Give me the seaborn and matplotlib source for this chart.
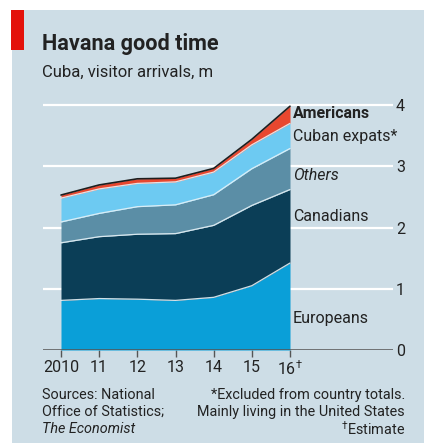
import numpy as np
import pandas as pd
import matplotlib
matplotlib.use("Agg")
import matplotlib.pyplot as plt
import seaborn as sns
from matplotlib.patches import Rectangle

years = [2010, 2011, 2012, 2013, 2014, 2015, 2016]
tick_labels = ["2010", "11", "12", "13", "14", "15", r"16$^{\dagger}$"]
europeans = [0.81, 0.84, 0.83, 0.81, 0.86, 1.05, 1.42]
canadians = [0.94, 1.01, 1.06, 1.09, 1.175, 1.31, 1.20]
others = [0.34, 0.38, 0.45, 0.47, 0.50, 0.60, 0.67]
cuban_expats = [0.39, 0.40, 0.38, 0.375, 0.37, 0.39, 0.41]
americans = [0.05, 0.065, 0.075, 0.06, 0.06, 0.09, 0.28]

series_names = ["Europeans", "Canadians", "Others", "Cuban expats*", "Americans"]
series_vals = [europeans, canadians, others, cuban_expats, americans]
colors = ["#0a9fd8", "#0b3e57", "#5b8ea6", "#6dcaf2", "#e8472f"]

BG = "#cddde6"
FONT = "Roboto"
TXT = "#222222"

sns.set_theme(style="white")
plt.rcParams["font.family"] = [FONT, "DejaVu Sans"]
plt.rcParams["mathtext.fontset"] = "custom"
plt.rcParams["mathtext.rm"] = FONT

W, H = 424, 443
fig = plt.figure(figsize=(W / 100, H / 100), dpi=100)
fig.patch.set_facecolor("white")

# background panel and red tag
fig.add_artist(Rectangle((12 / W, 0), 1 - 12 / W, 1 - 10 / H, transform=fig.transFigure,
                         facecolor=BG, edgecolor="none", zorder=0))
fig.add_artist(Rectangle((11 / W, 1 - 50 / H), 13 / W, 40 / H, transform=fig.transFigure,
                         facecolor="#e3120b", edgecolor="none", zorder=1))

# axes geometry (pixels)
ax_left, ax_right = 43, 393
y0_px, y4_px = 350, 105
ppu = (y0_px - y4_px) / 4.0
ymax = 4.1
ax_top = y0_px - ymax * ppu
x2010, x2016 = 61, 290
ppy = (x2016 - x2010) / 6.0
xmin = 2010 - (x2010 - ax_left) / ppy
xmax = 2016 + (ax_right - x2016) / ppy

ax = fig.add_axes([ax_left / W, 1 - y0_px / H, (ax_right - ax_left) / W, (y0_px - ax_top) / H])
ax.set_facecolor("none")
ax.set_xlim(xmin, xmax)
ax.set_ylim(0, ymax)

# gridlines
for v in [1, 2, 3, 4]:
    ax.axhline(v, color="white", lw=1.6, zorder=1)

df = pd.DataFrame({"year": years})
base = np.zeros(len(years))
for name, vals, c in zip(series_names, series_vals, colors):
    top = base + np.array(vals)
    ax.fill_between(years, base, top, color=c, lw=0, zorder=2)
    base = top

# separator lines
base = np.zeros(len(years))
for i, vals in enumerate(series_vals[:-1]):
    base = base + np.array(vals)
    df["sep"] = base
    sns.lineplot(data=df, x="year", y="sep", ax=ax, color="#e6f2f7", lw=0.9, zorder=3, alpha=0.9)
df["total"] = base + np.array(americans)
sns.lineplot(data=df, x="year", y="total", ax=ax, color="#1e1e1e", lw=1.2, zorder=4)

# axis line at zero
ax.axhline(0, color="#555555", lw=1.1, zorder=5)
for s in ax.spines.values():
    s.set_visible(False)

ax.set_xticks(years)
ax.set_xticklabels(tick_labels)
ax.tick_params(axis="x", direction="out", length=5, width=1, color="#555555", pad=2,
               labelsize=11.5, labelcolor=TXT, bottom=True)
ax.yaxis.tick_right()
ax.set_yticks([0, 1, 2, 3, 4])
ax.set_yticklabels(["0", "1", "2", "3", "4"])
ax.tick_params(axis="y", length=0, pad=2, labelsize=11.5, labelcolor=TXT)
ax.set_xlabel("")
ax.set_ylabel("")
ax.grid(False)

def ftxt(x, y, s, **kw):
    fig.text(x / W, 1 - y / H, s, color=TXT, **kw)

# series labels
ftxt(293, 114, "Americans", fontsize=11.5, weight="bold", va="center")
ftxt(293, 137, "Cuban expats*", fontsize=11.5, va="center")
ftxt(293, 176, "Others", fontsize=11.5, style="italic", va="center")
ftxt(293, 216, "Canadians", fontsize=11.5, va="center")
ftxt(293, 319, "Europeans", fontsize=11.5, va="center")

# titles
ftxt(42, 50, "Havana good time", fontsize=15.6, weight="bold", va="baseline")
ftxt(42, 72, "Cuba, visitor arrivals, m", fontsize=12, va="center")

# footnotes
fs = 10.4
ftxt(42, 395, "Sources: National", fontsize=fs, va="center")
ftxt(42, 412, "Office of Statistics;", fontsize=fs, va="center")
ftxt(42, 429, "The Economist", fontsize=fs, style="italic", va="center")
ftxt(405, 395, "*Excluded from country totals.", fontsize=fs, va="center", ha="right")
ftxt(405, 412, "Mainly living in the United States", fontsize=fs, va="center", ha="right")
ftxt(405, 429, r"$^{\dagger}$Estimate", fontsize=fs, va="center", ha="right")

fig.savefig("out.png", dpi=100, facecolor=fig.get_facecolor())
